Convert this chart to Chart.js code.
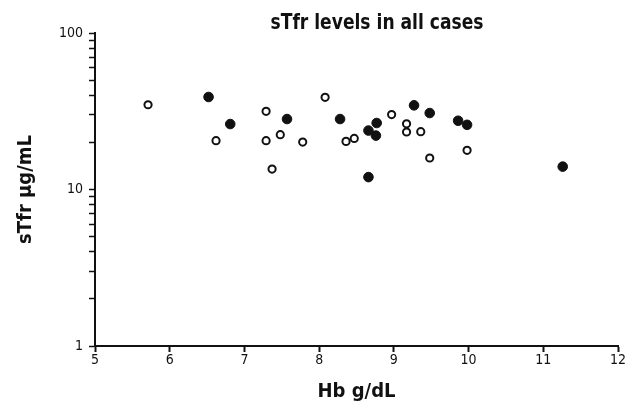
<!DOCTYPE html>
<html lang="en">
<head>
    <meta charset="UTF-8">
    <title>sTfr levels in all cases</title>
    <script src="https://cdn.jsdelivr.net/npm/chart.js"></script>
    <style>
        body { margin: 0; background: white; }
        #wrap { width: 627px; height: 409px; }
    </style>
</head>
<body>
    <div id="wrap"><canvas id="sTfrChart" width="627" height="409"></canvas></div>
    <script>
        // Hb (g/dL) and sTfr (µg/mL)
        const filledHb   = [6.52, 6.81, 7.57, 8.28, 8.66, 8.76, 8.77, 9.27, 9.48, 8.66, 9.86, 9.98, 11.26];
        const filledSTfr = [39.0, 26.2, 28.2, 28.2, 23.8, 22.1, 26.6, 34.5, 30.8, 12.0, 27.5, 25.9, 14.0];

        const openHb   = [5.71, 6.62, 7.29, 7.29, 7.37, 7.48, 7.78, 8.08, 8.36, 8.47, 8.97, 9.17, 9.17, 9.36, 9.48, 9.98];
        const openSTfr = [34.8, 20.5, 31.6, 20.5, 13.5, 22.4, 20.1, 38.8, 20.3, 21.2, 30.1, 26.3, 23.3, 23.4, 15.9, 17.8];

        const xTicks = [5, 6, 7, 8, 9, 10, 11, 12];
        const yTicks = [1, 2, 3, 4, 5, 6, 7, 8, 9, 10, 20, 30, 40, 50, 60, 70, 80, 90, 100];
        const yLabels = [1, 10, 100];

        const titleText = 'sTfr levels in all cases';
        const condensed = "'Liberation Sans Narrow', 'DejaVu Sans Condensed', 'DejaVu Sans', sans-serif";

        function toPoints(xs, ys) {
            return xs.map(function(x, i) { return { x: x, y: ys[i] }; });
        }

        // title sits right of the chart middle in the original, so draw it by hand,
        // squeezed a bit to look like the condensed face
        const titlePlugin = {
            id: 'titleText',
            afterDraw: function(chart) {
                const c = chart.ctx;
                c.save();
                c.font = 'bold 22px ' + condensed;
                c.fillStyle = '#111';
                c.textAlign = 'center';
                c.textBaseline = 'alphabetic';
                const w = c.measureText(titleText).width;
                const sx = Math.min(1, 213 / w);
                c.translate(377, 29);
                c.scale(sx, 1);
                c.fillText(titleText, 0, 0);
                c.restore();
            }
        };

        const ctx = document.getElementById('sTfrChart').getContext('2d');
        const chart = new Chart(ctx, {
            type: 'scatter',
            data: {
                datasets: [{
                    label: 'filled',
                    data: toPoints(filledHb, filledSTfr),
                    pointRadius: 4.8,
                    pointBackgroundColor: '#111',
                    pointBorderColor: '#111',
                    pointBorderWidth: 1
                }, {
                    label: 'open',
                    data: toPoints(openHb, openSTfr),
                    pointRadius: 3.6,
                    pointBackgroundColor: '#fff',
                    pointBorderColor: '#111',
                    pointBorderWidth: 2
                }]
            },
            plugins: [titlePlugin],
            options: {
                responsive: false,
                animation: false,
                layout: { padding: { top: 33, right: 9, left: 0, bottom: 0 } },
                plugins: {
                    legend: { display: false },
                    tooltip: { enabled: false }
                },
                scales: {
                    x: {
                        type: 'linear',
                        min: 5,
                        max: 12,
                        afterBuildTicks: function(scale) {
                            scale.ticks = xTicks.map(function(v) { return { value: v }; });
                        },
                        afterFit: function(scale) { scale.height = 63; },
                        grid: {
                            drawOnChartArea: false,
                            color: '#111',
                            tickLength: 6,
                            tickWidth: 2
                        },
                        border: { color: '#111', width: 2 },
                        ticks: {
                            color: '#111',
                            padding: 0,
                            maxRotation: 0,
                            font: { family: condensed, size: 14 }
                        },
                        title: {
                            display: true,
                            text: 'Hb g/dL',
                            color: '#111',
                            padding: { top: 4, bottom: 5 },
                            font: { family: condensed, size: 20, weight: 'bold' }
                        }
                    },
                    y: {
                        type: 'logarithmic',
                        min: 1,
                        max: 100,
                        afterBuildTicks: function(scale) {
                            scale.ticks = yTicks.map(function(v) { return { value: v }; });
                        },
                        afterFit: function(scale) { scale.width = 95; },
                        grid: {
                            drawOnChartArea: false,
                            color: '#111',
                            tickLength: 6,
                            tickWidth: 1.5
                        },
                        border: { color: '#111', width: 2 },
                        ticks: {
                            color: '#111',
                            padding: 6,
                            autoSkip: false,
                            font: { family: condensed, size: 14 },
                            callback: function(value) {
                                return yLabels.indexOf(value) >= 0 ? String(value) : '';
                            }
                        },
                        title: {
                            display: true,
                            text: 'sTfr µg/mL',
                            color: '#111',
                            padding: { top: 14, bottom: 4 },
                            font: { family: condensed, size: 20, weight: 'bold' }
                        }
                    }
                }
            }
        });
    </script>
</body>
</html>
